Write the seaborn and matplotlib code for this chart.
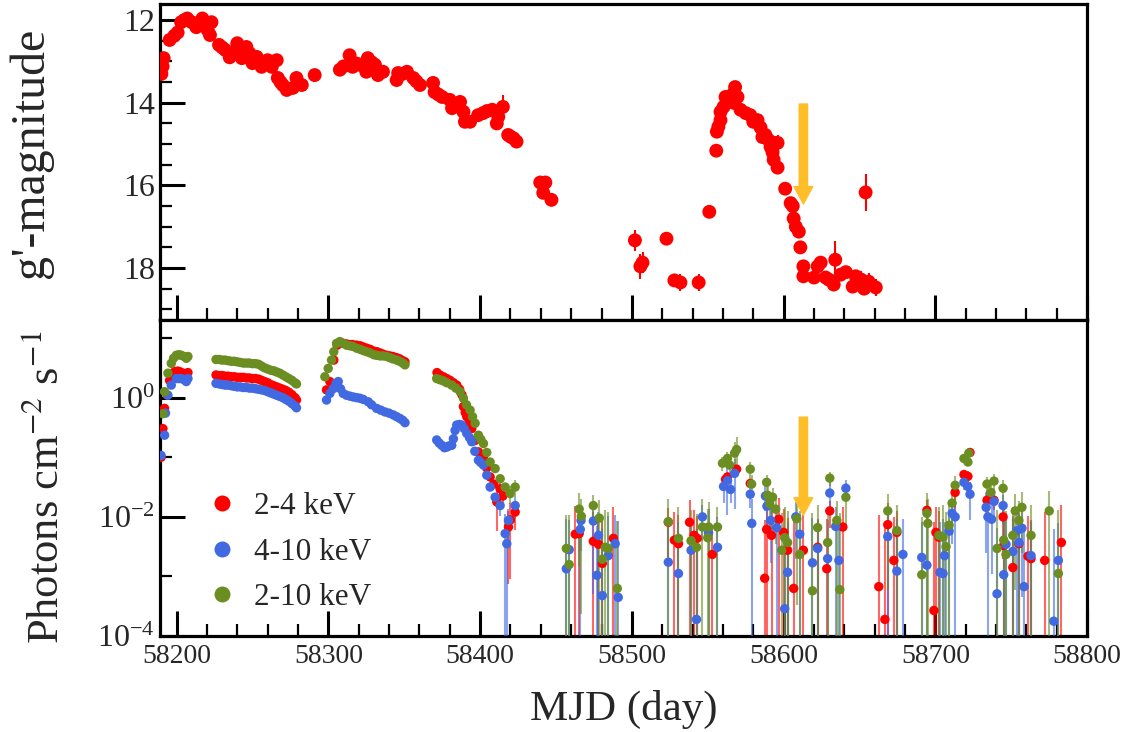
import numpy as np
import matplotlib
matplotlib.use('Agg')
import matplotlib.pyplot as plt
from matplotlib.ticker import FixedLocator, MultipleLocator, NullFormatter
import seaborn as sns

# ---------------- optical g' light curve ----------------
opt_mjd = [58190.0, 58190.8, 58191.5, 58195.4, 58198.5, 58200.7, 58203.0, 58205.0, 58207.0, 58210.0,
           58213.0, 58217.0, 58219.0, 58220.5, 58222.0, 58223.0, 58228.0, 58230.0, 58232.0, 58235.0,
           58237.0, 58239.6, 58240.0, 58243.0, 58246.0, 58248.0, 58250.0, 58252.8, 58256.0, 58258.0,
           58260.0, 58262.7, 58266.0, 58266.7, 58268.5, 58270.0, 58272.6, 58276.6, 58279.0, 58282.5,
           58291.0, 58307.6, 58310.0, 58314.0, 58316.0, 58318.5, 58320.8, 58323.0, 58326.0, 58325.0,
           58328.5, 58330.7, 58332.7, 58336.0, 58345.0, 58346.0, 58349.0, 58351.8, 58356.0, 58358.0,
           58360.4, 58369.0, 58370.0, 58372.5, 58375.0, 58380.0, 58381.5, 58386.8, 58389.0, 58390.0,
           58393.4, 58398.7, 58402.0, 58404.6, 58408.0, 58411.0, 58412.0, 58415.0, 58418.5, 58420.0,
           58422.0, 58424.0, 58439.6, 58443.0, 58441.6, 58447.0, 58502.0, 58505.6, 58507.0, 58522.8,
           58528.0, 58532.0, 58544.0, 58551.0, 58555.6, 58556.0, 58557.0, 58558.4, 58558.4, 58560.4,
           58561.7, 58563.7, 58566.0, 58568.0, 58569.6, 58567.0, 58571.6, 58575.0, 58578.0, 58580.0,
           58582.8, 58584.8, 58586.0, 58588.0, 58590.0, 58591.4, 58593.4, 58596.0, 58592.7, 58593.4,
           58596.0, 58601.0, 58604.6, 58606.0, 58606.6, 58608.0, 58610.0, 58611.0, 58613.0, 58613.0,
           58620.0, 58622.4, 58624.4, 58627.7, 58629.7, 58633.0, 58634.0, 58637.6, 58641.0, 58645.5,
           58647.5, 58651.0, 58653.0, 58654.0, 58656.0, 58660.7]
opt_mag = [13.30, 13.12, 12.92, 12.48, 12.38, 12.30, 12.05, 12.00, 11.96, 12.05,
           12.17, 11.96, 12.10, 12.24, 12.36, 12.05, 12.60, 12.66, 12.72, 12.90,
           12.80, 12.72, 12.56, 12.92, 12.65, 12.80, 13.04, 12.89, 13.13, 13.05,
           12.97, 13.13, 12.97, 13.40, 13.50, 13.57, 13.69, 13.64, 13.40, 13.57,
           13.33, 13.20, 13.12, 12.85, 13.13, 13.05, 13.08, 13.10, 12.92, 13.25,
           13.02, 13.08, 13.33, 13.25, 13.45, 13.28, 13.30, 13.25, 13.40, 13.48,
           13.57, 13.52, 13.74, 13.80, 13.86, 13.93, 14.13, 13.98, 14.22, 14.46,
           14.46, 14.30, 14.25, 14.20, 14.17, 14.50, 14.34, 14.10, 14.78, 14.82,
           14.86, 14.94, 15.93, 15.93, 16.18, 16.35, 17.33, 17.96, 17.87, 17.29,
           18.30, 18.35, 18.35, 16.64, 15.16, 14.70, 14.58, 14.42, 14.22, 14.10,
           13.86, 13.93, 13.81, 13.62, 13.86, 14.00, 14.17, 14.25, 14.30, 14.46,
           14.42, 14.60, 14.83, 14.78, 14.90, 15.07, 14.97, 14.97, 15.20, 15.38,
           15.57, 16.08, 16.43, 16.50, 16.80, 17.00, 17.12, 17.50, 17.96, 18.20,
           18.23, 17.96, 17.87, 18.23, 18.28, 18.40, 17.80, 18.16, 18.10, 18.45,
           18.20, 18.28, 18.50, 16.17, 18.33, 18.47]
opt_err = [0.05, 0.05, 0.05, 0.05, 0.05, 0.05, 0.05, 0.05, 0.05, 0.05,
           0.05, 0.05, 0.05, 0.05, 0.05, 0.05, 0.05, 0.05, 0.05, 0.05,
           0.05, 0.05, 0.05, 0.05, 0.05, 0.05, 0.05, 0.05, 0.05, 0.05,
           0.05, 0.05, 0.05, 0.05, 0.05, 0.05, 0.05, 0.05, 0.05, 0.05,
           0.05, 0.05, 0.05, 0.05, 0.05, 0.05, 0.05, 0.05, 0.05, 0.05,
           0.05, 0.05, 0.05, 0.05, 0.05, 0.05, 0.05, 0.05, 0.05, 0.05,
           0.05, 0.05, 0.05, 0.05, 0.05, 0.05, 0.05, 0.05, 0.05, 0.05,
           0.05, 0.05, 0.05, 0.15, 0.05, 0.05, 0.05, 0.30, 0.05, 0.05,
           0.05, 0.05, 0.12, 0.12, 0.10, 0.10, 0.25, 0.30, 0.25, 0.05,
           0.15, 0.20, 0.20, 0.05, 0.05, 0.05, 0.05, 0.05, 0.05, 0.05,
           0.05, 0.05, 0.05, 0.05, 0.05, 0.05, 0.05, 0.05, 0.05, 0.05,
           0.05, 0.05, 0.05, 0.05, 0.05, 0.05, 0.05, 0.20, 0.05, 0.05,
           0.05, 0.10, 0.05, 0.05, 0.05, 0.05, 0.05, 0.05, 0.05, 0.05,
           0.05, 0.05, 0.05, 0.05, 0.05, 0.05, 0.45, 0.15, 0.15, 0.15,
           0.15, 0.20, 0.15, 0.45, 0.20, 0.20]

# ---------------- X-ray light curves (log10 photons cm^-2 s^-1) ----------------
# bright phase: error bars smaller than the markers
red_bright_mjd = [58189.8, 58191.0, 58192.1, 58193.5, 58195.4, 58197.6, 58199.0, 58200.9, 58202.5, 58204.2, 58206.0, 58207.5,
                  58226, 58228, 58230, 58232, 58234, 58236, 58238, 58240, 58242, 58244, 58246, 58248, 58250, 58252,
                  58254, 58256, 58258, 58260, 58262, 58264, 58266, 58268, 58270, 58272, 58274, 58276, 58278, 58279,
                  58298.8, 58301.0, 58303.6, 58305.8, 58307.6, 58309.8, 58312, 58314, 58316, 58318.6, 58321, 58323,
                  58325.2, 58327.5, 58330, 58332, 58334, 58336, 58338.4, 58340.5, 58342.5, 58345, 58347, 58349, 58350.5,
                  58371.6, 58373.5, 58375.8, 58378, 58380.2, 58382.4, 58384.6, 58386.5, 58388, 58389, 58390.2, 58391.2,
                  58393, 58394.5, 58396.5, 58398.9, 58400.5, 58402.2, 58404.4]
red_bright_lflux = [-1.00, -0.52, -0.18, 0.05, 0.29, 0.41, 0.44, 0.445, 0.43, 0.41, 0.40, 0.42,
                    0.38, 0.37, 0.37, 0.36, 0.36, 0.35, 0.35, 0.34, 0.34, 0.34, 0.33, 0.33, 0.32, 0.32,
                    0.31, 0.29, 0.27, 0.25, 0.22, 0.20, 0.18, 0.16, 0.14, 0.12, 0.09, 0.05, 0.00, -0.04,
                    0.13, 0.27, 0.63, 0.88, 0.92, 0.91, 0.90, 0.89, 0.89, 0.88, 0.87, 0.85,
                    0.83, 0.81, 0.78, 0.77, 0.75, 0.73, 0.71, 0.70, 0.69, 0.67, 0.65, 0.62, 0.60,
                    0.42, 0.38, 0.35, 0.32, 0.29, 0.25, 0.21, 0.14, 0.05, -0.15, -0.25, -0.32,
                    -0.42, -0.52, -0.72, -0.91, -0.97, -1.02, -1.18]

blue_bright_mjd = [58189.8, 58192.1, 58192.7, 58194.3, 58196.5, 58199.8, 58201.5, 58203.1, 58205.0, 58206.4, 58207.5,
                   58226, 58228, 58230, 58232, 58234, 58236, 58238, 58240, 58242, 58244, 58246, 58248, 58250, 58252,
                   58254, 58256, 58258, 58260, 58262, 58264, 58266, 58268, 58270, 58272, 58274, 58276, 58278, 58279,
                   58298.8, 58301.0, 58303.2, 58305.0, 58306.5, 58308.0, 58309.8, 58312, 58314.2, 58316.5, 58318.6,
                   58320.8, 58323, 58326.3, 58328.5, 58331.8, 58334.5, 58337.3, 58340, 58342.8, 58345, 58347.2,
                   58349, 58350.5,
                   58371.4, 58373, 58374.7, 58376.5, 58378, 58379.5, 58381.3, 58382.4, 58383.5, 58384.6, 58386.3,
                   58388, 58389.5, 58391.2, 58393, 58394.5, 58396.5, 58398.9, 58400.5, 58402.2, 58404.4]
blue_bright_lflux = [-0.97, -0.63, -0.26, 0.04, 0.21, 0.32, 0.32, 0.32, 0.30, 0.27, 0.32,
                     0.24, 0.23, 0.22, 0.21, 0.21, 0.20, 0.19, 0.18, 0.18, 0.17, 0.17, 0.16, 0.16, 0.15,
                     0.14, 0.13, 0.12, 0.10, 0.08, 0.06, 0.04, 0.02, 0.00, -0.03, -0.06, -0.10, -0.14, -0.17,
                     -0.04, 0.07, 0.15, 0.24, 0.27, 0.15, 0.07, 0.04, 0.025, 0.01, 0.00,
                     -0.01, -0.03, -0.07, -0.12, -0.18, -0.21, -0.24, -0.26, -0.29, -0.32, -0.35,
                     -0.38, -0.42,
                     -0.71, -0.76, -0.80, -0.84, -0.83, -0.81, -0.80, -0.69, -0.55, -0.46, -0.45,
                     -0.46, -0.52, -0.60, -0.67, -0.74, -0.90, -1.05, -1.09, -1.13, -1.30]

green_bright_mjd = [58191.0, 58192.1, 58194.3, 58196.5, 58198.0, 58199.8, 58201.5, 58203.1, 58205.0, 58206.4, 58207.5,
                    58226, 58228, 58230, 58232, 58234, 58236, 58238, 58240, 58242, 58244, 58246, 58248, 58250, 58252,
                    58254, 58256, 58258, 58260, 58262, 58264, 58266, 58268, 58270, 58272, 58274, 58276, 58278, 58279,
                    58297.7, 58299.9, 58302.1, 58303.6, 58305.4, 58307.6, 58309.8, 58312, 58314, 58316, 58318.6,
                    58321, 58323, 58325.2, 58327.5, 58330, 58331.8, 58334, 58336, 58338.4, 58340.5, 58342.5,
                    58345, 58347, 58349, 58350.5,
                    58371.4, 58373.5, 58375.8, 58378, 58381.3, 58384, 58386.8, 58389, 58391, 58393.4, 58395,
                    58396.7, 58398.9, 58400.5, 58402.2, 58404.4]
green_bright_lflux = [-0.27, 0.10, 0.41, 0.575, 0.66, 0.71, 0.72, 0.71, 0.69, 0.66, 0.69,
                      0.64, 0.64, 0.63, 0.63, 0.62, 0.61, 0.61, 0.60, 0.59, 0.58, 0.58, 0.58, 0.57, 0.57,
                      0.56, 0.53, 0.50, 0.48, 0.46, 0.45, 0.43, 0.41, 0.38, 0.35, 0.32, 0.29, 0.25, 0.23,
                      0.35, 0.49, 0.63, 0.77, 0.91, 0.94, 0.91, 0.88, 0.87, 0.86, 0.83,
                      0.81, 0.79, 0.77, 0.75, 0.72, 0.71, 0.70, 0.70, 0.69, 0.67, 0.65,
                      0.63, 0.61, 0.58, 0.55,
                      0.32, 0.30, 0.28, 0.25, 0.21, 0.16, 0.10, -0.01, -0.12, -0.21, -0.32,
                      -0.43, -0.63, -0.70, -0.77, -0.92]

# faint phase: with error bars (flux error in photons cm^-2 s^-1)
red_faint_mjd = [58406.6, 58409.0, 58411.0, 58413.2, 58415.0, 58418.7, 58420.0, 58423.1,
                 58462.7, 58465.3, 58474.6, 58478.0, 58480.5, 58487.8,
                 58524.0, 58528.0, 58530.7, 58538.0, 58541.0, 58543.0, 58553.0, 58561.7, 58563.0, 58569.0, 58578.0,
                 58587.5, 58588.8, 58592.0, 58596.7, 58600.0, 58602.6, 58606.6, 58613.0, 58622.4, 58628.4, 58630.4, 58639.0,
                 58662.7, 58666.7, 58668.6, 58672.6, 58674.6, 58694.4, 58699.0, 58700.3, 58702.3, 58713.0,
                 58718.8, 58721.4, 58722.8, 58734.0, 58738.6, 58744.6, 58745.0, 58751.0, 58755.0, 58761.0, 58763.0,
                 58772.0, 58783.0]
red_faint_lflux = [-1.33, -1.45, -1.75, -1.53, -1.65, -2.17, -2.05, -1.92,
                   -2.29, -2.28, -2.41, -2.46, -2.78, -2.36,
                   -2.09, -2.39, -2.45, -2.09, -2.31, -2.36, -2.63, -1.37, -1.33, -1.20, -1.44,
                   -3.03, -2.21, -2.31, -2.04, -2.26, -2.56, -3.20, -2.56, -2.51, -2.87, -1.90, -2.17,
                   -3.17, -3.72, -2.13, -2.73, -2.26, -1.89, -3.57, -2.26, -2.34, -1.59,
                   -1.29, -1.32, -0.92, -1.72, -1.72, -2.00, -2.48, -2.85, -2.45, -2.66, -2.70,
                   -2.73, -2.43]
red_faint_err = [0.004, 0.004, 0.012, 0.008, 0.006, 0.006, 0.008, 0.006,
                 0.010, 0.006, 0.008, 0.007, 0.009, 0.010,
                 0.006, 0.008, 0.007, 0.011, 0.008, 0.006, 0.005, 0.010, 0.008, 0.010, 0.006,
                 0.008, 0.009, 0.010, 0.012, 0.008, 0.007, 0.010, 0.008, 0.006, 0.008, 0.006, 0.008,
                 0.010, 0.008, 0.010, 0.008, 0.007, 0.006, 0.008, 0.009, 0.008, 0.012,
                 0.008, 0.010, 0.012, 0.008, 0.006, 0.008, 0.007, 0.009, 0.008, 0.008, 0.007,
                 0.010, 0.012]

blue_faint_mjd = [58406.6, 58409.9, 58413.2, 58416.5, 58417.6, 58418.7, 58423.1,
                  58456.8, 58458.7, 58466.0, 58466.5, 58474.6, 58477.0, 58478.0, 58480.5, 58484.5, 58489.0, 58491.0,
                  58524.0, 58530.7, 58539.0, 58542.6, 58546.5, 58550.5, 58556.4, 58560.4, 58563.0, 58565.0,
                  58567.7, 58578.0, 58579.0,
                  58588.0, 58589.0, 58591.4, 58595.4, 58600.7, 58602.6, 58608.0, 58610.6, 58619.0, 58622.4,
                  58629.0, 58630.4, 58634.3, 58636.4, 58641.0,
                  58668.6, 58674.6, 58678.6, 58691.0, 58694.4, 58703.0, 58705.0, 58706.0, 58709.0, 58711.0, 58713.0,
                  58718.8, 58721.4, 58722.8, 58733.4, 58734.6, 58737.0, 58738.6, 58740.6, 58744.6, 58745.0,
                  58746.5, 58751.0, 58753.8, 58755.0, 58757.0, 58758.4, 58763.0, 58778.0, 58781.0]
blue_faint_lflux = [-1.50, -1.67, -1.81, -2.28, -2.45, -2.06, -1.81,
                    -2.87, -2.55, -2.21, -2.06, -2.07, -2.98, -2.31, -3.32, -2.65, -2.45, -3.35,
                    -2.76, -2.95, -2.56, -3.72, -2.00, -2.27, -2.51, -1.49, -1.39, -1.54,
                    -1.27, -1.62, -2.11,
                    -1.65, -1.82, -2.06, -2.18, -3.54, -2.93, -2.00, -2.29, -2.77, -2.53,
                    -2.70, -1.60, -2.16, -2.73, -1.52,
                    -2.33, -2.91, -2.63, -2.68, -2.81, -2.93, -2.95, -2.65, -2.24, -1.94, -2.00,
                    -1.42, -1.49, -1.62, -1.84, -2.00, -2.04, -1.74, -3.29, -1.81, -2.97,
                    -2.46, -2.58, -2.23, -2.43, -2.19, -3.17, -2.65, -3.75, -2.73]
blue_faint_err = [0.003, 0.004, 0.005, 0.006, 0.005, 0.005, 0.006,
                  0.008, 0.006, 0.007, 0.006, 0.008, 0.006, 0.007, 0.006, 0.008, 0.007, 0.008,
                  0.006, 0.007, 0.006, 0.006, 0.006, 0.008, 0.007, 0.015, 0.030, 0.012,
                  0.040, 0.010, 0.012,
                  0.010, 0.008, 0.007, 0.008, 0.006, 0.007, 0.008, 0.006, 0.008, 0.006,
                  0.007, 0.012, 0.008, 0.007, 0.012,
                  0.006, 0.008, 0.007, 0.006, 0.006, 0.007, 0.008, 0.006, 0.007, 0.008, 0.010,
                  0.010, 0.012, 0.015, 0.012, 0.010, 0.008, 0.008, 0.006, 0.008, 0.007,
                  0.006, 0.007, 0.006, 0.007, 0.006, 0.006, 0.006, 0.006, 0.006]

green_faint_mjd = [58406.6, 58409.9, 58413.2, 58416.5, 58419.8, 58423.1,
                   58456.8, 58458.7, 58465.3, 58466.7, 58474.6, 58478.5, 58480.5, 58482.5, 58484.5, 58490.4,
                   58524.0, 58530.7, 58539.0, 58542.6, 58546.5, 58550.0, 58550.5, 58556.4, 58559.7, 58563.0,
                   58564.4, 58567.7, 58569.0, 58578.0, 58578.9,
                   58588.8, 58589.5, 58590.8, 58592.7, 58594.7, 58598.7, 58600.7, 58602.6, 58608.6, 58610.6,
                   58619.0, 58622.4, 58629.0, 58630.4, 58635.0, 58637.0, 58641.0,
                   58668.6, 58674.6, 58691.0, 58694.4, 58695.0, 58702.3, 58705.0, 58707.0, 58709.0, 58711.0, 58713.0,
                   58718.8, 58721.4, 58722.0, 58734.0, 58736.6, 58738.6, 58740.6, 58744.6, 58745.0, 58746.5,
                   58751.0, 58752.6, 58755.0, 58757.0, 58763.0, 58775.0, 58781.0]
green_faint_lflux = [-1.08, -1.19, -1.36, -1.50, -1.61, -1.50,
                     -2.53, -2.80, -1.87, -1.99, -1.81, -2.02, -2.71, -2.51, -2.53, -3.20,
                     -2.08, -2.36, -2.40, -2.51, -2.17, -2.35, -2.17, -2.17, -1.10, -1.02,
                     -1.13, -0.93, -0.87, -1.20, -1.45,
                     -1.42, -1.64, -1.78, -1.67, -1.87, -2.56, -2.35, -2.43, -2.03, -2.63,
                     -3.24, -2.18, -2.43, -1.35, -2.06, -3.22, -1.67,
                     -1.90, -2.23, -2.97, -1.94, -2.11, -2.31, -2.34, -2.50, -2.14, -1.77, -1.47,
                     -1.02, -1.08, -0.93, -1.45, -1.59, -1.40, -2.53, -1.52, -2.39, -2.63,
                     -2.31, -1.90, -2.06, -1.84, -2.31, -1.90, -2.95]
green_faint_err = [0.004, 0.004, 0.005, 0.006, 0.008, 0.010,
                   0.008, 0.009, 0.012, 0.010, 0.008, 0.010, 0.009, 0.010, 0.009, 0.008,
                   0.012, 0.010, 0.009, 0.008, 0.013, 0.009, 0.011, 0.008, 0.020, 0.025,
                   0.020, 0.060, 0.080, 0.020, 0.015,
                   0.012, 0.010, 0.010, 0.009, 0.010, 0.009, 0.010, 0.009, 0.009, 0.010,
                   0.011, 0.009, 0.010, 0.012, 0.010, 0.011, 0.015,
                   0.012, 0.010, 0.009, 0.014, 0.012, 0.010, 0.011, 0.009, 0.010, 0.012, 0.015,
                   0.012, 0.012, 0.015, 0.012, 0.010, 0.012, 0.010, 0.012, 0.011, 0.010,
                   0.010, 0.012, 0.010, 0.012, 0.011, 0.015, 0.012]

band_labels = ['2-4 keV', '4-10 keV', '2-10 keV']
band_colors = ['#ff0000', '#4169e1', '#6b8e23']

# state-transition marker
arrow_mjd = 58613.0
arrow_mag = [14.03, 16.45]      # tail, tip
arrow_flux = [0.47, 0.0107]     # tail, tip
arrow_color = '#ffbe28'


def style_axis(ax):
    for sp in ax.spines.values():
        sp.set_linewidth(2.3)
        sp.set_color('black')
    ax.tick_params(which='major', direction='in', length=18, width=2.2, color='black',
                   top=False, right=False)
    ax.tick_params(which='minor', direction='in', length=8.5, width=1.6, color='black',
                   top=False, right=False)
    ax.xaxis.set_major_locator(MultipleLocator(100))
    ax.xaxis.set_minor_locator(MultipleLocator(20))
    ax.grid(False)


def draw_arrow(ax, y_tail, y_tip):
    ax.annotate('', xy=(arrow_mjd, y_tip), xytext=(arrow_mjd, y_tail),
                arrowprops=dict(arrowstyle='simple,head_width=1.35,head_length=1.25,tail_width=0.6',
                                color=arrow_color, shrinkA=0, shrinkB=0, mutation_scale=10),
                zorder=10)


def main():
    sns.set_theme(style='ticks')
    plt.rcParams['font.family'] = ['Liberation Serif', 'DejaVu Serif']
    plt.rcParams['mathtext.fontset'] = 'stix'
    plt.rcParams['axes.facecolor'] = 'white'

    fig, (ax1, ax2) = plt.subplots(2, 1, sharex=True, figsize=(11.42, 7.32), dpi=100)
    fig.subplots_adjust(left=0.140, right=0.952, top=0.9945, bottom=0.131, hspace=0)

    # --- top panel: optical magnitude
    ax1.errorbar(opt_mjd, opt_mag, yerr=opt_err, fmt='none', ecolor='#ff0000',
                 elinewidth=1.5, capsize=0, zorder=2)
    sns.scatterplot(x=opt_mjd, y=opt_mag, color='#ff0000', s=100, edgecolor='none',
                    linewidth=0, ax=ax1, zorder=3, legend=False)
    ax1.set_ylim(19.26, 11.61)
    ax1.yaxis.set_major_locator(FixedLocator([12, 14, 16, 18]))
    ax1.yaxis.set_minor_locator(MultipleLocator(0.5))
    ax1.set_ylabel("g'-magnitude", fontsize=34.5)
    style_axis(ax1)
    ax1.tick_params(axis='y', labelsize=23)
    ax1.tick_params(axis='x', labelbottom=False)
    draw_arrow(ax1, arrow_mag[0], arrow_mag[1])

    # --- bottom panel: X-ray fluxes
    bands = [
        (red_bright_mjd, red_bright_lflux, red_faint_mjd, red_faint_lflux, red_faint_err),
        (blue_bright_mjd, blue_bright_lflux, blue_faint_mjd, blue_faint_lflux, blue_faint_err),
        (green_bright_mjd, green_bright_lflux, green_faint_mjd, green_faint_lflux, green_faint_err),
    ]
    handles = []
    for i, (bm, bl, fm, fl, fe) in enumerate(bands):
        col = band_colors[i]
        fflux = 10 ** np.array(fl)
        ferr = np.array(fe)
        lower = np.minimum(ferr, fflux * 0.9999)
        ax2.errorbar(fm, fflux, yerr=[lower, ferr], fmt='none', ecolor=col, alpha=0.6,
                     elinewidth=1.5, capsize=0, zorder=2 + i)
        mjd_all = list(bm) + list(fm)
        flux_all = list(10 ** np.array(bl)) + list(fflux)
        sns.scatterplot(x=mjd_all, y=flux_all, color=col, s=46, edgecolor='none',
                        linewidth=0, ax=ax2, zorder=5 + i, legend=False)
        handles.append(plt.Line2D([], [], ls='none', marker='o', ms=11.5, color=col,
                                  markeredgewidth=0, label=band_labels[i]))

    ax2.set_yscale('log')
    ax2.set_ylim(1e-4, 20)
    ax2.yaxis.set_major_locator(FixedLocator([1e-4, 1e-2, 1e0]))
    ax2.yaxis.set_minor_locator(FixedLocator([1e-3, 1e-1, 1e1]))
    ax2.yaxis.set_minor_formatter(NullFormatter())
    ax2.set_xlim(58189, 58800)
    style_axis(ax2)
    ax2.tick_params(axis='y', labelsize=23)
    ax2.tick_params(axis='x', labelsize=20, pad=6)
    ax2.set_ylabel(r'Photons cm$^{-2}$ s$^{-1}$', fontsize=32)
    ax2.set_xlabel('MJD (day)', fontsize=31, labelpad=15)
    draw_arrow(ax2, arrow_flux[0], arrow_flux[1])

    ax2.legend(handles=handles, loc='upper left', bbox_to_anchor=(0.050, 0.455),
               frameon=False, fontsize=22.5, handlelength=1.0, handletextpad=0.53,
               labelspacing=0.52, borderpad=0, borderaxespad=0)

    ax1.yaxis.set_label_coords(-0.115, 0.528)
    ax2.yaxis.set_label_coords(-0.100, 0.47)

    fig.savefig('out.png', dpi=100, facecolor='white')


if __name__ == '__main__':
    main()
